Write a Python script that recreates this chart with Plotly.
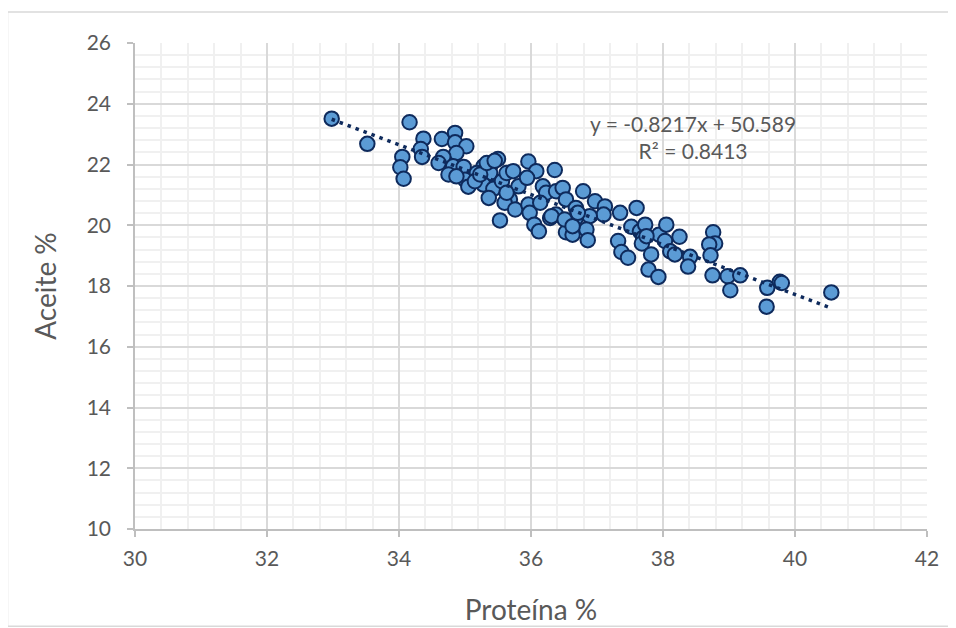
import plotly.graph_objects as go

# Proteína % (x) y Aceite % (y)
proteina = [
    32.98, 33.52, 34.16, 34.37, 34.33, 34.35, 34.05, 34.02, 34.07, 34.65,
    34.85, 34.85, 35.02, 34.87, 34.67, 34.60, 34.82, 34.75, 34.98, 35.00,
    35.05, 34.87, 35.28, 35.38, 35.50, 35.38, 35.18, 35.28, 35.43, 35.36,
    35.56, 35.63, 35.73, 35.96, 36.08, 36.36, 35.81, 35.94, 35.68, 35.60,
    35.76, 35.96, 35.98, 35.53, 36.18, 36.23, 36.38, 36.48, 36.53, 36.38,
    36.29, 36.05, 36.12, 36.53, 36.63, 36.68, 36.68, 36.79, 36.97, 37.12,
    37.60, 37.35, 37.10, 36.89, 36.84, 36.86, 37.32, 37.37, 37.47, 37.52,
    37.65, 37.73, 37.70, 37.68, 37.82, 37.94, 38.05, 38.03, 38.11, 38.18,
    38.25, 37.78, 37.93, 38.41, 38.38, 38.76, 38.79, 38.70, 38.72, 38.75,
    38.98, 39.17, 39.02, 39.58, 39.57, 39.77, 39.80, 40.55, 35.15, 35.23,
    35.33, 35.63, 36.14, 36.31, 36.51, 36.63, 36.71, 37.75, 35.45,
]
aceite = [
    23.51, 22.68, 23.39, 22.85, 22.51, 22.25, 22.25, 21.91, 21.53, 22.84,
    23.04, 22.73, 22.60, 22.38, 22.25, 22.05, 21.94, 21.67, 21.92, 21.50,
    21.27, 21.61, 21.94, 21.94, 22.18, 21.72, 21.72, 21.34, 21.20, 20.90,
    21.45, 21.72, 21.78, 22.10, 21.78, 21.82, 21.28, 21.56, 20.85, 20.74,
    20.52, 20.68, 20.41, 20.16, 21.28, 21.07, 21.12, 21.23, 20.85, 20.35,
    20.24, 20.02, 19.80, 19.77, 19.69, 20.24, 20.57, 21.12, 20.79, 20.62,
    20.57, 20.41, 20.35, 20.30, 19.86, 19.51, 19.48, 19.12, 18.93, 19.95,
    19.80, 20.02, 19.59, 19.40, 19.04, 19.69, 20.02, 19.48, 19.14, 19.04,
    19.62, 18.54, 18.30, 18.96, 18.64, 19.77, 19.40, 19.37, 19.01, 18.35,
    18.32, 18.35, 17.86, 17.94, 17.32, 18.14, 18.10, 17.79, 21.45, 21.67,
    22.05, 21.07, 20.74, 20.30, 20.19, 19.97, 20.41, 19.64, 22.12,
]

# línea de tendencia lineal (coeficientes de la etiqueta)
pendiente = -0.8217
intercepto = 50.589
x_tend = [min(proteina), max(proteina)]
y_tend = [pendiente * v + intercepto for v in x_tend]

gris = '#595959'
fuente = 'Lato, Open Sans, sans-serif'

fig = go.Figure()

fig.add_trace(go.Scatter(
    x=proteina, y=aceite, mode='markers',
    marker=dict(size=14.5, color='#5B9BD5',
                line=dict(width=2, color='#0E2A5C')),
    hoverinfo='x+y', showlegend=False,
))

fig.add_trace(go.Scatter(
    x=x_tend, y=y_tend, mode='lines',
    line=dict(color='#0E2A5C', width=3.5, dash='3.5px,5px'),
    hoverinfo='skip', showlegend=False,
))

fig.add_annotation(
    xref='paper', yref='paper', x=0.705, y=0.806,
    xanchor='center', yanchor='middle',
    text='y = -0.8217x + 50.589<br>R² = 0.8413',
    showarrow=False, align='center',
    font=dict(family=fuente, size=21, color=gris),
)

# borde exterior del área del gráfico
fig.add_shape(
    type='rect', xref='paper', yref='paper',
    x0=-0.161, x1=1.035, y0=-0.2, y1=1.064,
    line=dict(color='#D9D9D9', width=1.5), layer='below',
)

fig.update_layout(
    width=956, height=628,
    margin=dict(l=127, r=37, t=35, b=107),
    plot_bgcolor='white', paper_bgcolor='white',
    font=dict(family=fuente, color=gris),
    xaxis=dict(
        range=[30, 42], dtick=2, tick0=30,
        showgrid=True, gridcolor='#D9D9D9', gridwidth=1.5,
        minor=dict(dtick=0.4, tick0=30, showgrid=True,
                   gridcolor='#F0F0F0', gridwidth=1.5),
        showline=True, linecolor='#BFBFBF', linewidth=1.5,
        ticks='outside', ticklen=6, tickcolor='#BFBFBF', tickwidth=1.5,
        tickfont=dict(size=21, color=gris),
        ticklabelstandoff=4,
        title=dict(text='Proteína %', font=dict(size=28, color=gris),
                   standoff=31),
        zeroline=False,
    ),
    yaxis=dict(
        range=[10, 26], dtick=2, tick0=10,
        showgrid=True, gridcolor='#D9D9D9', gridwidth=1.5,
        minor=dict(dtick=0.4, tick0=10, showgrid=True,
                   gridcolor='#F0F0F0', gridwidth=1.5),
        showline=True, linecolor='#BFBFBF', linewidth=1.5,
        ticks='outside', ticklen=6, tickcolor='#BFBFBF', tickwidth=1.5,
        tickfont=dict(size=21, color=gris),
        ticklabelstandoff=12,
        title=dict(text='Aceite %', font=dict(size=28, color=gris),
                   standoff=22),
        zeroline=False,
    ),
)

fig.write_html('out.html')
